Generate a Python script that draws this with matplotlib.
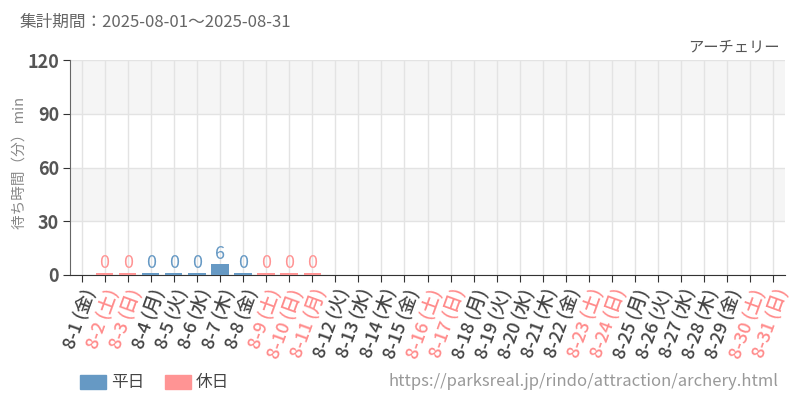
import matplotlib
matplotlib.use("Agg")
import matplotlib.pyplot as plt
from matplotlib.patches import Rectangle

plt.rcParams['font.family'] = ['Noto Sans CJK JP', 'DejaVu Sans']

days = ["8-%d" % d for d in range(1, 32)]
weekdays = ["金", "土", "日", "月", "火", "水", "木", "金", "土", "日", "月",
            "火", "水", "木", "金", "土", "日", "月", "火", "水", "木", "金",
            "土", "日", "月", "火", "水", "木", "金", "土", "日"]
# holiday flags (weekends + 8-11 山の日)
holiday = [0, 1, 1, 0, 0, 0, 0, 0, 1, 1, 1,
           0, 0, 0, 0, 1, 1, 0, 0, 0, 0, 0,
           1, 1, 0, 0, 0, 0, 0, 1, 1]
waits = [None, 0, 0, 0, 0, 0, 6, 0, 0, 0, 0] + [None] * 20

BLUE = "#6699c4"
PINK = "#ff9494"
LBL_DARK = "#444444"
LBL_PINK = "#ff8c8c"

fig = plt.figure(figsize=(8, 4), dpi=100)
ax = fig.add_axes([70 / 800, 125 / 400, 715 / 800, 215 / 400])

# alternating bands
for i, (lo, hi) in enumerate([(0, 30), (30, 60), (60, 90), (90, 120)]):
    if i % 2 == 1:
        ax.axhspan(lo, hi, color="#f5f5f5", zorder=0, lw=0)

for i, w in enumerate(waits):
    if w is None:
        continue
    c = PINK if holiday[i] else BLUE
    h = w if w > 0 else 0.9
    ax.bar(i, h, width=0.75, color=c, zorder=3)
    ax.text(i, h + 0.6, str(w), ha="center", va="bottom", fontsize=13,
            color=c, fontstretch="condensed", zorder=4)

ax.set_xlim(-0.5, len(days) - 0.5)
ax.set_ylim(0, 120)
ax.set_yticks([0, 30, 60, 90, 120])
ax.set_xticks(range(len(days)))
ax.set_xticklabels(["%s (%s)" % (d, w) for d, w in zip(days, weekdays)],
                   rotation=70, ha="right", rotation_mode="anchor", fontsize=13,
                   fontweight="medium")
for tl, h in zip(ax.get_xticklabels(), holiday):
    tl.set_color(LBL_PINK if h else LBL_DARK)
for tl in ax.get_yticklabels():
    tl.set_color("#555555")
    tl.set_fontsize(13)
    tl.set_fontweight("bold")

ax.grid(True, color="#e3e3e3", lw=1, zorder=1)
ax.set_axisbelow(True)
for s in ["top", "right"]:
    ax.spines[s].set_visible(False)
ax.spines["left"].set_color("#666666")
ax.spines["bottom"].set_color("#333333")
ax.tick_params(axis="both", direction="out", length=5, color="#333333", pad=3)

fig.text(20 / 800, 1 - 163 / 400, "待ち時間（分） min", rotation=90,
         color="#888888", fontsize=10.5, ha="center", va="center")

fig.text(20 / 800, 1 - 22 / 400, "集計期間：2025-08-01～2025-08-31",
         fontsize=12, color="#666666", va="center")
fig.text(780 / 800, 1 - 47 / 400, "アーチェリー", fontsize=11, color="#555555",
         ha="right", va="center")

# legend
fig.patches.append(Rectangle((80 / 800, 1 - 389 / 400), 26 / 800, 14 / 400,
                             transform=fig.transFigure, color=BLUE))
fig.text(111 / 800, 1 - 382 / 400, "平日", fontsize=12, color="#444444", va="center")
fig.patches.append(Rectangle((165 / 800, 1 - 389 / 400), 26 / 800, 14 / 400,
                             transform=fig.transFigure, color=PINK))
fig.text(196 / 800, 1 - 382 / 400, "休日", fontsize=12, color="#444444", va="center")
fig.text(779 / 800, 1 - 382 / 400, "https://parksreal.jp/rindo/attraction/archery.html",
         fontsize=12, color="#999999", ha="right", va="center")

fig.savefig("out.png", dpi=100)
